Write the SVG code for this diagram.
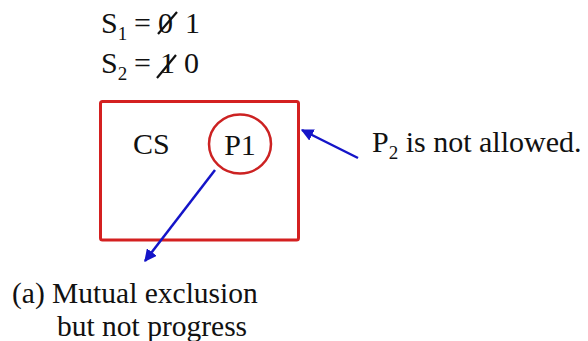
<svg xmlns="http://www.w3.org/2000/svg" width="588" height="341" viewBox="0 0 588 341">
<defs>
<style>
.t{font-family:"Liberation Serif","Times New Roman",serif;font-size:30px;fill:#111}
.cap{font-size:29.5px}
.sub{font-size:19px}
.conn{stroke:#1414c8;stroke-width:2.5;fill:none}
.strike{stroke:#111;stroke-width:2.2}
</style>
<marker id="ah" viewBox="0 0 10 10" refX="9" refY="5" markerWidth="5" markerHeight="5" orient="auto" markerUnits="strokeWidth">
<path d="M0,0 L10,5 L0,10 Z" fill="#1414c8"/>
</marker>
</defs>
<rect width="588" height="341" fill="#fff"/>
<g id="equations">
<text class="t" x="101" y="33">S<tspan class="sub" dy="7">1</tspan><tspan dy="-7" x="134">=</tspan><tspan x="158">0</tspan><tspan x="185">1</tspan></text>
<line class="strike" x1="158" y1="34" x2="177" y2="12"/>
<text class="t" x="101" y="73">S<tspan class="sub" dy="7">2</tspan><tspan dy="-7" x="134">=</tspan><tspan x="160">1</tspan><tspan x="184">0</tspan></text>
<line class="strike" x1="157" y1="78" x2="176" y2="55"/>
</g>
<g id="cs">
<rect x="100.5" y="101.5" width="198" height="138.5" rx="2" fill="none" stroke="#d42020" stroke-width="3"/>
<text class="t" x="133" y="154">CS</text>
</g>
<g id="p1">
<ellipse cx="240" cy="144" rx="31" ry="29.5" fill="none" stroke="#cc2222" stroke-width="2.5"/>
<text class="t" x="240" y="155" text-anchor="middle">P1</text>
</g>
<g id="connectors">
<line class="conn" x1="215" y1="170" x2="145" y2="261" marker-end="url(#ah)"/>
<line class="conn" x1="358" y1="158" x2="302" y2="130" marker-end="url(#ah)"/>
</g>
<g id="label-p2">
<text class="t" x="372" y="152">P<tspan class="sub" dy="7">2</tspan><tspan dy="-7"> is not allowed.</tspan></text>
</g>
<g id="caption">
<text class="t cap" x="12" y="303">(a) Mutual exclusion</text>
<text class="t cap" x="57" y="336">but not progress</text>
</g>
</svg>
